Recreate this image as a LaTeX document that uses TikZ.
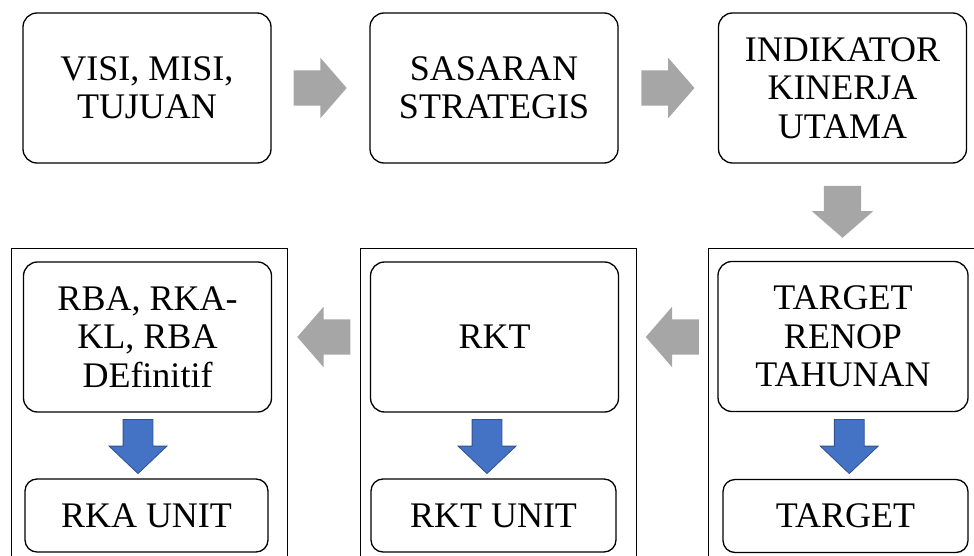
\documentclass[tikz,border=0pt]{standalone}
\usepackage{fontspec}
\setmainfont{Liberation Serif}
\usetikzlibrary{arrows.meta, positioning, shapes.arrows, calc}
\definecolor{arrowgray}{RGB}{166,166,166}
\definecolor{unitblue}{RGB}{68,114,196}
\definecolor{unitblueline}{RGB}{47,82,143}

\tikzset{
  stage/.style={draw, line width=1.3pt, rounded corners=14pt, minimum width=248pt,
    minimum height=150pt, align=center, inner sep=2pt,
    font=\fontsize{36}{38.5}\selectfont},
  unitbox/.style={stage, minimum height=73pt, rounded corners=12pt},
  panel/.style={draw, line width=1pt, minimum width=276pt, minimum height=400pt, anchor=north},
  grayarrow/.style={single arrow, fill=arrowgray, inner xsep=0pt, inner ysep=17.5pt,
    minimum height=53pt, single arrow head extend=12.5pt, single arrow tip angle=98},
  bluearrow/.style={single arrow, fill=unitblue, draw=unitblueline, line width=0.8pt,
    inner xsep=0pt, inner ysep=14.5pt, minimum height=54pt,
    single arrow head extend=14pt, single arrow tip angle=93, rotate=270}
}

\begin{document}
\begin{tikzpicture}[x=1pt, y=-1pt]
\useasboundingbox (0,0) rectangle (974,556);
\clip (0,0) rectangle (974,556);

% top row
\node[stage] (visi) at (147,88) {VISI, MISI,\\TUJUAN};
\node[stage] (sasaran) at (494,88) {SASARAN\\STRATEGIS};
\node[stage] (iku) at (842.5,88) {INDIKATOR\\KINERJA\\UTAMA};

% panels of the lower row
\node[panel] (panelA) at (149,248) {};
\node[panel] (panelB) at (498,248) {};
\node[panel] (panelC) at (846,248) {};

% lower row
\node[stage] (rba) at (147.5,337) {RBA, RKA-\\KL, RBA\\DEfinitif};
\node[unitbox, minimum width=243pt] (rkaunit) at (146.5,515.5) {RKA UNIT};
\node[stage] (rkt) at (494.5,337) {RKT};
\node[unitbox, minimum width=245pt] (rktunit) at (493.5,515.5) {RKT UNIT};
\node[stage, minimum width=250pt] (renop) at (843,336.5) {TARGET\\RENOP\\TAHUNAN};
\node[unitbox, minimum width=245pt] (target) at (845.5,516) {TARGET};

% gray flow arrows
\coordinate (gapAB) at ($(panelA.east)!0.5!(panelB.west)$);
\coordinate (gapBC) at ($(panelB.east)!0.5!(panelC.west)$);
\node[grayarrow] (g1) at ($(visi.east)!0.5!(sasaran.west)+(-8,0)$) {};
\node[grayarrow] (g2) at ($(sasaran.east)!0.5!(iku.west)+(-8,0)$) {};
\node[grayarrow, rotate=270, inner ysep=18.5pt, minimum height=52pt,
  single arrow head extend=12pt] (g3) at ($(iku.south)+(0,40)$) {};
\node[grayarrow, rotate=180] (g4) at ($(gapBC |- rkt)+(8,0)$) {};
\node[grayarrow, rotate=180] (g5) at ($(gapAB |- rkt)+(8,0)$) {};

% blue arrows inside the panels
\node[bluearrow] (b1) at ($(rba.south)!0.5!(rkaunit.north)+(-9,-6)$) {};
\node[bluearrow] (b2) at ($(rkt.south)!0.5!(rktunit.north)+(-7,-6)$) {};
\node[bluearrow] (b3) at ($(renop.south)!0.5!(target.north)+(5,-6)$) {};
\end{tikzpicture}
\end{document}
